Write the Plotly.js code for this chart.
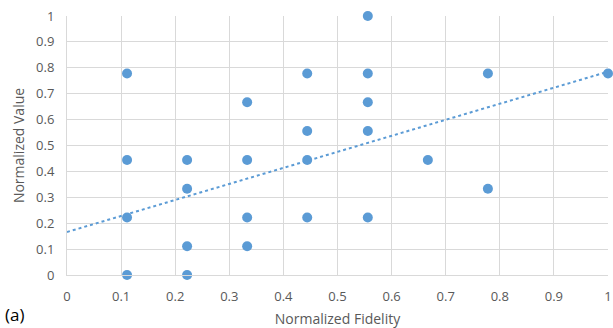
<!DOCTYPE html>
<html>
<head>
<meta charset="utf-8">
<script src="https://cdn.plot.ly/plotly-3.0.1.min.js"></script>
<style>html,body{margin:0;padding:0;background:#fff;}#chart{width:613px;height:328px;}</style>
</head>
<body>
<div id="chart"></div>
<script>
// Data (fractions of ninths)
var fidelity = [0.111,0.111,0.111,0.111, 0.222,0.222,0.222,0.222, 0.333,0.333,0.333,0.333, 0.444,0.444,0.444,0.444, 0.556,0.556,0.556,0.556,0.556, 0.667, 0.778,0.778, 1.0];
var value    = [0.778,0.444,0.222,0.0,   0.444,0.333,0.111,0.0,   0.667,0.444,0.222,0.111, 0.778,0.556,0.444,0.222, 1.0,0.778,0.667,0.556,0.222,   0.444, 0.778,0.333, 0.778];
var trendX = [0, 1];
var trendY = [0.166, 0.785];
var xTicks = [0,0.1,0.2,0.3,0.4,0.5,0.6,0.7,0.8,0.9,1];
var xTickText = ['0','0.1','0.2','0.3','0.4','0.5','0.6','0.7','0.8','0.9','1'];
var yTicks = [0,0.1,0.2,0.3,0.4,0.5,0.6,0.7,0.8,0.9,1];
var yTickText = ['0','0.1','0.2','0.3','0.4','0.5','0.6','0.7','0.8','0.9','1'];

var blue = '#5b9bd5';
var gray = '#595959';
var font = 'Open Sans, Liberation Sans, sans-serif';

var traces = [
  {x: trendX, y: trendY, mode: 'lines', line: {color: blue, width: 2, dash: 'dot'}, hoverinfo: 'skip'},
  {x: fidelity, y: value, mode: 'markers', marker: {color: blue, size: 10}, cliponaxis: false}
];

var layout = {
  width: 613, height: 328,
  margin: {l: 67, r: 5, t: 16, b: 53},
  showlegend: false,
  paper_bgcolor: '#fff', plot_bgcolor: '#fff',
  font: {family: font, color: gray, size: 13},
  xaxis: {
    range: [0, 1], tickvals: xTicks, ticktext: xTickText,
    showgrid: true, gridcolor: '#d9d9d9', gridwidth: 1,
    zeroline: false, showline: true, linecolor: '#d9d9d9', mirror: false,
    ticks: '', ticklabelstandoff: 9, ticklabeloverflow: 'allow',
    tickfont: {family: font, color: gray, size: 13},
    title: {text: 'Normalized Fidelity', font: {family: font, color: gray, size: 14}, standoff: 11}
  },
  yaxis: {
    range: [0, 1], tickvals: yTicks, ticktext: yTickText,
    showgrid: true, gridcolor: '#d9d9d9', gridwidth: 1,
    zeroline: false, showline: true, linecolor: '#d9d9d9',
    ticks: '', ticklabelstandoff: 9,
    tickfont: {family: font, color: gray, size: 13},
    title: {text: 'Normalized Value', font: {family: font, color: gray, size: 14}, standoff: 8}
  },
  annotations: [
    {text: '(a)', xref: 'paper', yref: 'paper', x: -0.118, y: -0.2046, xanchor: 'left', yanchor: 'bottom',
     showarrow: false, font: {family: font, color: '#000', size: 17}}
  ]
};

Plotly.newPlot('chart', traces, layout, {staticPlot: true, displayModeBar: false});
</script>
</body>
</html>
